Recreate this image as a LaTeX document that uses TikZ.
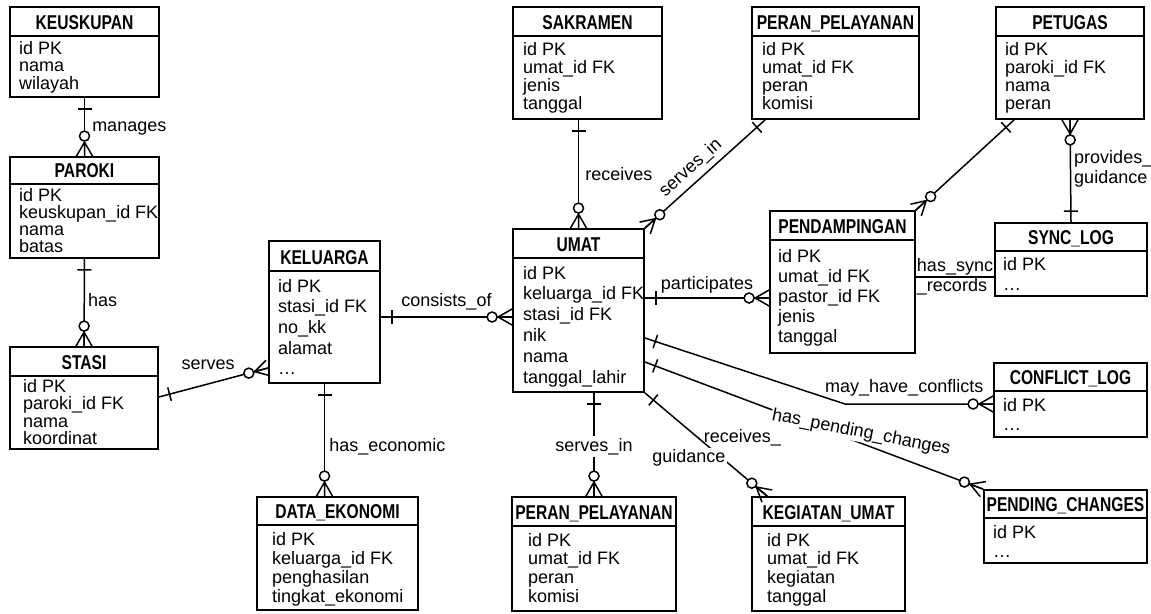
\documentclass[tikz,border=0pt]{standalone}
\usepackage{fontspec}
\setmainfont{Liberation Sans}
\newfontfamily\titlefont{Liberation Sans}[FakeStretch=0.78]
\usepackage{tikz}
\usetikzlibrary{calc}
\usetikzlibrary{fit}

\tikzset{
  entbox/.style={draw, line width=1.8pt, inner sep=0pt},
  enttitle/.style={anchor=base, inner sep=0pt, font=\titlefont\bfseries\fontsize{20}{20}\selectfont},
  rowtxt/.style={anchor=base west, inner sep=0pt, font=\fontsize{18}{18}\selectfont},
  rel/.style={line width=1.5pt},
  lbl/.style={inner sep=2pt, font=\fontsize{18}{20}\selectfont}
}

% #1 indent, #2 gap below header, #3 row distance
\newcommand{\setrows}[3]{\def\rowindent{#1}\def\rowgap{#2}\def\rowskip{#3}}
% name, left, top, right, header line, bottom, title, {row params}, rows
\newcommand{\entity}[9]{%
  \coordinate (#1-nw) at (#2,#3);
  \coordinate (#1-se) at (#4,#6);
  \node[entbox, fit=(#1-nw)(#1-se)] (#1) {};
  \draw[line width=1.8pt] (#1.west |- 0,#5) -- (#1.east |- 0,#5);
  \node[enttitle] at ({(#2+#4)/2},#5-6.5) {#7};
  \setrows#8
  \foreach \row [count=\i] in {#9}
    \node[rowtxt] at (#2+\rowindent,#5+\rowgap+\i*\rowskip-\rowskip) {\row};
}
% bar at end #1 of a line going to #2
\newcommand{\onebar}[2]{%
  \coordinate (ob) at ($(#1)!11pt!(#2)$);
  \draw[rel] ($(ob)!7pt!90:(#2)$) -- ($(ob)!7pt!-90:(#2)$);
}
% circle and crow's foot at end #1 of a line coming from #2
\newcommand{\zeromany}[2]{%
  \coordinate (zm-apex) at ($(#1)!14pt!(#2)$);
  \coordinate (zm-c) at ($(#1)!20pt!(#2)$);
  \draw[rel] ($(#1)!8pt!90:(#2)$) -- (zm-apex) -- ($(#1)!8pt!-90:(#2)$) (zm-apex) -- (#1);
  \draw[rel, fill=white] (zm-c) circle[radius=5pt];
}

\begin{document}
\begin{tikzpicture}[x=1pt,y=-1pt]
  \path[use as bounding box, fill=white] (0,0) rectangle (1151,613);

  % Tabellen
  \entity{keuskupan}{10}{7}{159}{36}{97}{KEUSKUPAN}{{9}{18}{17.5}}{id PK,nama,wilayah}
  \entity{paroki}{10}{157}{159}{184}{258}{PAROKI}{{9}{17}{17}}{id PK,keuskupan\_id FK,nama,batas}
  \entity{stasi}{10}{347}{158}{376}{449}{STASI}{{13}{16}{17.5}}{id PK,paroki\_id FK,nama,koordinat}
  \entity{keluarga}{269}{241}{380}{271}{383}{KELUARGA}{{9}{21}{20.7}}{id PK,stasi\_id FK,no\_kk,alamat,\ldots}
  \entity{dataeko}{257}{497}{418}{525}{610}{DATA\_EKONOMI}{{15}{20}{19}}{id PK,keluarga\_id FK,penghasilan,tingkat\_ekonomi}
  \entity{sakramen}{513}{7}{662}{36}{119}{SAKRAMEN}{{10}{19}{18.3}}{id PK,umat\_id FK,jenis,tanggal}
  \entity{umat}{513}{229}{644}{258}{392}{UMAT}{{10}{21}{20.8}}{id PK,keluarga\_id FK,stasi\_id FK,nik,nama,tanggal\_lahir}
  \entity{perantop}{752}{7}{919}{36}{119}{PERAN\_PELAYANAN}{{10}{19}{18.3}}{id PK,umat\_id FK,peran,komisi}
  \entity{petugas}{996}{7}{1144}{36}{119}{PETUGAS}{{9}{19}{18.3}}{id PK,paroki\_id FK,nama,peran}
  \entity{pendamp}{770}{211}{915}{240}{353}{PENDAMPINGAN}{{8}{22}{20.2}}{id PK,umat\_id FK,pastor\_id FK,jenis,tanggal}
  \entity{synclog}{995}{223}{1147}{251}{296}{SYNC\_LOG}{{8}{19}{20}}{id PK,\ldots}
  \entity{conflict}{994}{363}{1147}{391}{437}{CONFLICT\_LOG}{{9}{20}{19}}{id PK,\ldots}
  \entity{pending}{984}{490}{1147}{518}{563}{PENDING\_CHANGES}{{9}{20}{19}}{id PK,\ldots}
  \entity{peranbot}{512}{497}{676}{526}{611}{PERAN\_PELAYANAN}{{16}{20}{18.7}}{id PK,umat\_id FK,peran,komisi}
  \entity{kegiatan}{752}{497}{905}{526}{611}{KEGIATAN\_UMAT}{{15}{20}{18.7}}{id PK,umat\_id FK,kegiatan,tanggal}

  % Anschlusspunkte
  \coordinate (stasi-r) at (stasi.east |- 0,397);
  \coordinate (kel-l) at (keluarga.west |- 0,368);
  \coordinate (kel-r) at (keluarga.east |- 0,317);
  \coordinate (umat-l) at (umat.west |- 0,317);
  \coordinate (kel-b) at (keluarga.south);
  \coordinate (eko-t) at (keluarga.south |- dataeko.north);
  \coordinate (sak-b) at (umat.north |- sakramen.south);
  \coordinate (pt-b) at ([xshift=14pt]perantop.south west);
  \coordinate (umat-r1) at (umat.east |- 0,298);
  \coordinate (pd-l) at (pendamp.west |- 0,298);
  \coordinate (pg-b) at ([xshift=19pt]petugas.south west);
  \coordinate (pd-r) at (pendamp.east |- 0,277);
  \coordinate (sl-l) at (synclog.west |- 0,277);
  \coordinate (umat-r2) at (umat.east |- 0,338);
  \coordinate (cbend) at (845,404);
  \coordinate (cl-l) at (conflict.west |- 0,404);
  \coordinate (umat-r3) at (umat.east |- 0,362);
  \coordinate (umat-b) at (peranbot.north |- umat.south);
  \coordinate (kg-t) at ([xshift=16pt]kegiatan.north west);

  % Beziehungen
  \draw[rel] (keuskupan.south) -- node[lbl, right=5pt, pos=0.52] {manages} (paroki.north);
  \onebar{keuskupan.south}{paroki.north}
  \zeromany{paroki.north}{keuskupan.south}

  \draw[rel] (paroki.south) -- node[lbl, right=1pt, pos=0.47] {has} (stasi.north);
  \onebar{paroki.south}{stasi.north}
  \zeromany{stasi.north}{paroki.south}

  \draw[rel] (stasi-r) -- node[lbl, above=12pt, pos=0.45] {serves} (kel-l);
  \onebar{stasi-r}{kel-l}
  \zeromany{kel-l}{stasi-r}

  \draw[rel] (kel-b) -- node[lbl, right=2pt, pos=0.56] {has\_economic} (eko-t);
  \onebar{kel-b}{eko-t}
  \zeromany{eko-t}{kel-b}

  \draw[rel] (kel-r) -- node[lbl, above=4.5pt] {consists\_of} (umat-l);
  \onebar{kel-r}{umat-l}
  \zeromany{umat-l}{kel-r}

  \draw[rel] (sak-b) -- node[lbl, right=4pt, pos=0.5] {receives} (umat.north);
  \onebar{sak-b}{umat.north}
  \zeromany{umat.north}{sak-b}

  \draw[rel] (umat.north east) -- node[lbl, sloped, above=3pt, pos=0.46] {serves\_in} (pt-b);
  \onebar{pt-b}{umat.north east}
  \zeromany{umat.north east}{pt-b}

  \draw[rel] (umat-r1) -- node[lbl, above=2pt] {participates} (pd-l);
  \onebar{umat-r1}{pd-l}
  \zeromany{pd-l}{umat-r1}

  \draw[rel] (pg-b) -- (pendamp.north east);
  \onebar{pg-b}{pendamp.north east}
  \zeromany{pendamp.north east}{pg-b}

  \draw[rel] (synclog.north) -- node[lbl, right=1pt, pos=0.525, align=left] {provides\_\\guidance} (petugas.south);
  \onebar{synclog.north}{petugas.south}
  \zeromany{petugas.south}{synclog.north}

  \draw[rel] (pd-r) -- node[lbl, align=left] {has\_sync\\\_records} (sl-l);

  \draw[rel] (umat-r2) -- (cbend) -- node[lbl, above=5pt, pos=0.4] {may\_have\_conflicts} (cl-l);
  \onebar{umat-r2}{cbend}
  \zeromany{cl-l}{cbend}

  \draw[rel] (umat-r3) -- node[lbl, fill=white, inner sep=1pt, rotate=-11, pos=0.634, yshift=10pt] {has\_pending\_changes} (pending.north west);
  \onebar{umat-r3}{pending.north west}
  \zeromany{pending.north west}{umat-r3}

  \draw[rel] (umat-b) -- node[lbl, fill=white, pos=0.52] {serves\_in} (peranbot.north);
  \onebar{umat-b}{peranbot.north}
  \zeromany{peranbot.north}{umat-b}

  \draw[rel] (umat.south east) -- node[lbl, pos=0.43, xshift=45pt] {receives\_}
    node[lbl, fill=white, pos=0.63, xshift=-33pt] {guidance} (kg-t);
  \onebar{umat.south east}{kg-t}
  \zeromany{kg-t}{umat.south east}
\end{tikzpicture}
\end{document}
